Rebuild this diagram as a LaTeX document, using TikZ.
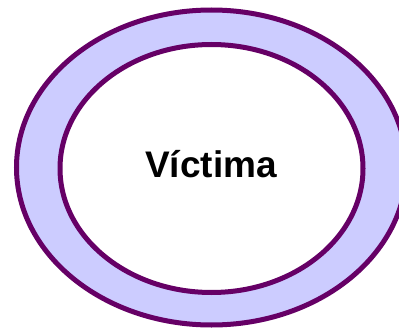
\documentclass[tikz,border=0pt]{standalone}
\usepackage{fontspec}
\setmainfont{Liberation Sans}
\definecolor{ringfill}{HTML}{CCCCFF}
\definecolor{ringline}{HTML}{660066}
\begin{document}
\begin{tikzpicture}[x=1pt,y=-1pt,
  ring/.style={draw=ringline,line width=5pt},
  label/.style={font=\bfseries\fontsize{37}{44}\selectfont,text=black,anchor=base,inner sep=0pt}]
\useasboundingbox (0,0) rectangle (399,329);
\clip (0,0) rectangle (399,329);
\fill[white] (0,0) rectangle (399,329);
\draw[ring,fill=ringfill] (211.5,167.5) ellipse [x radius=195,y radius=157.5];
\draw[ring,fill=white] (211.5,168.5) ellipse [x radius=151.5,y radius=124];
\node[label] (v) at (211,177) {Víctima};
\end{tikzpicture}
\end{document}
